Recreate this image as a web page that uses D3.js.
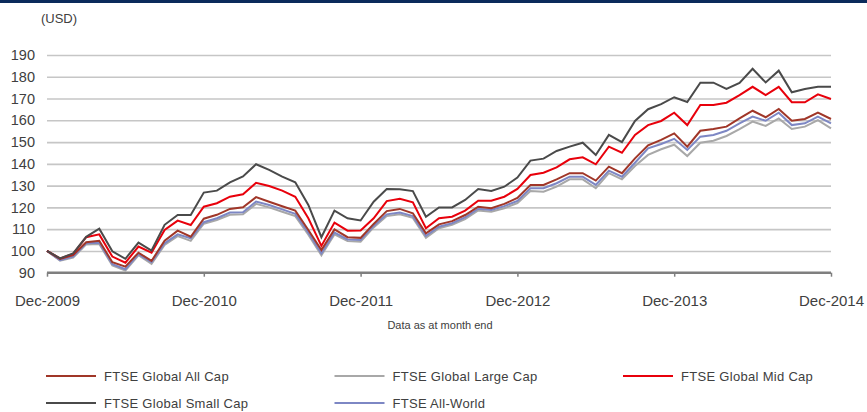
<!DOCTYPE html>
<html>
<head>
<meta charset="utf-8">
<script src="https://cdn.jsdelivr.net/npm/d3@7"></script>
<style>
  html, body { margin: 0; padding: 0; background: #fff; }
  svg { display: block; font-family: "Liberation Sans", Arial, sans-serif; }
</style>
</head>
<body>
<svg id="chart" width="867" height="412"></svg>
<script>
// ---- Data (monthly index values, Dec-2009 = 100, USD) ----
const months = d3.range(61); // Dec-2009 .. Dec-2014 (month index)
const xTickIndex = [0, 12, 24, 36, 48, 60];
const xTickLabels = ["Dec-2009", "Dec-2010", "Dec-2011", "Dec-2012", "Dec-2013", "Dec-2014"];
const yTicks = [90, 100, 110, 120, 130, 140, 150, 160, 170, 180, 190];

const seriesNames = ["FTSE Global All Cap", "FTSE Global Large Cap", "FTSE Global Mid Cap", "FTSE Global Small Cap", "FTSE All-World"];

const allCap = [100, 96.3, 98.1, 104, 104.7, 94.8, 92.8, 99.2, 95.4, 104.7, 109.3, 106.5, 114.8,
  116.6, 119.3, 120.1, 124.7, 122.6, 120.5, 118.5, 109.6, 100.4, 109.9, 106.3, 106,
  112.4, 118.3, 119.3, 117.3, 108.1, 112.2, 113.7, 116.5, 120.3, 119.6, 121.6, 124.3,
  130.3, 130.3, 132.9, 135.7, 135.7, 132.3, 138.7, 135.7, 142.5, 148.5, 151, 154,
  147.9, 155.2, 156, 157.1, 160.9, 164.4, 161.4, 165.2, 159.8, 160.6, 163.5, 160.6];

const largeCap = [100, 95.5, 96.9, 103, 103.2, 93.3, 91, 98, 94, 102.8, 106.8, 104.6, 112.5,
  114.2, 116.6, 116.8, 121.6, 120, 118, 116, 107.5, 98, 107.6, 104.5, 104.2,
  110.8, 116, 116.8, 115.2, 106, 110.4, 112, 114.6, 118.6, 118, 119.6, 122,
  127.5, 127.2, 129.5, 132.9, 132.9, 128.8, 135.7, 132.9, 139, 144.1, 146.7, 148.8,
  143.6, 149.7, 150.6, 152.8, 155.9, 159.4, 157.4, 160.9, 156, 157.1, 160.1, 156.3];

const midCap = [100, 96.6, 98.6, 106.3, 107.6, 97.4, 94.6, 102, 99.2, 109.6, 113.9, 111.9, 120.3,
  121.9, 124.9, 126, 131.3, 129.8, 127.7, 124.9, 115, 102.3, 113, 109.3, 109.4,
  115, 122.9, 124, 122.3, 110.4, 115, 115.7, 118.5, 123.1, 123.1, 124.9, 128.5,
  134.9, 135.9, 138.4, 142.1, 143, 139.8, 147.9, 145.1, 153.3, 157.8, 159.7, 163.5,
  157.8, 167, 167, 168.1, 171.6, 175.4, 171.6, 175.4, 168.3, 168.3, 171.9, 169.8];

const smallCap = [100, 96.6, 98.9, 106.5, 110.2, 99.8, 96.4, 103.8, 100.2, 112, 116.5, 116.5, 126.8,
  127.7, 131.5, 134.2, 139.8, 137.2, 134.1, 131.5, 121.1, 106.3, 118.5, 115, 114,
  122.6, 128.4, 128.3, 127.5, 115.7, 120, 120, 123.4, 128.4, 127.5, 129.5, 133.7,
  141.5, 142.4, 145.9, 147.9, 149.7, 144.1, 153.3, 150, 159.7, 165.1, 167.4, 170.6,
  168.4, 177.3, 177.3, 174.4, 177.2, 183.7, 177.4, 182.8, 172.9, 174.4, 175.4, 175.4];

const allWorld = [100, 95.8, 97.4, 103.5, 103.8, 93.9, 91.6, 98.5, 94.8, 103.5, 107.6, 105.8, 113.2,
  115, 117.6, 117.8, 122.7, 121.1, 119.1, 117, 108.4, 98.9, 108.4, 105.3, 105,
  111.5, 116.8, 117.6, 116, 106.9, 111.1, 112.7, 115.4, 119.4, 118.8, 120.6, 123,
  128.8, 128.8, 131.1, 134.1, 134.1, 130.3, 136.9, 134.1, 140.5, 147.1, 149.1, 151.5,
  146.4, 152.5, 153.3, 155.2, 158.6, 161.7, 159.8, 163.5, 157.8, 158.6, 161.7, 158.6];

const seriesValues = [allCap, largeCap, midCap, smallCap, allWorld];
const seriesColors = ["#a03628", "#a8a8a8", "#e8000b", "#4a4a4a", "#7d87c4"];

// ---- Layout ----
const svg = d3.select("#chart");
const W = 867, H = 412;
const plot = { left: 47, right: 831, top: 55, bottom: 272.7 };

svg.append("rect").attr("x", 0).attr("y", 0).attr("width", W).attr("height", 3).attr("fill", "#0b2a5b");

const x = d3.scaleLinear().domain([0, 60]).range([plot.left, plot.right]);
const y = d3.scaleLinear().domain([90, 190]).range([plot.bottom, plot.top]);

// Y axis with gridlines
const yAxis = d3.axisLeft(y)
  .tickValues(yTicks)
  .tickSize(-(plot.right - plot.left))
  .tickPadding(12)
  .tickFormat(d3.format("d"));
const gy = svg.append("g").attr("transform", `translate(${plot.left},0)`).call(yAxis);
gy.select(".domain").remove();
gy.selectAll(".tick line")
  .attr("stroke", "#c6c6c6")
  .attr("stroke-width", 1.6)
  .filter(d => d === 90).remove();
gy.selectAll(".tick text")
  .attr("fill", "#404040")
  .style("font-size", "14.5px")
  .style("font-family", "'Liberation Sans', Arial, sans-serif");

// X axis
const xAxis = d3.axisBottom(x)
  .tickValues(xTickIndex)
  .tickSize(4)
  .tickPadding(19)
  .tickFormat((d, i) => xTickLabels[i]);
const gx = svg.append("g").attr("transform", `translate(0,${plot.bottom})`).call(xAxis);
gx.select(".domain")
  .attr("stroke", "#7f7f7f")
  .attr("stroke-width", 2.6)
  .attr("d", `M${plot.left},0H${plot.right}`);
gx.selectAll(".tick line").attr("stroke", "#7f7f7f").attr("stroke-width", 1.5);
gx.selectAll(".tick text")
  .attr("fill", "#404040")
  .style("font-size", "15px")
  .style("font-family", "'Liberation Sans', Arial, sans-serif");

// (USD) label
svg.append("text")
  .attr("x", 59).attr("y", 23)
  .attr("text-anchor", "middle")
  .attr("fill", "#404040")
  .style("font-size", "13px")
  .text("(USD)");

// Lines
const line = d3.line().x((d, i) => x(months[i])).y(d => y(d));
const drawOrder = [1, 4, 0, 2, 3];
drawOrder.forEach(k => {
  svg.append("path")
    .datum(seriesValues[k])
    .attr("fill", "none")
    .attr("stroke", seriesColors[k])
    .attr("stroke-width", 2)
    .attr("stroke-linejoin", "miter")
    .attr("d", line);
});

// Note
svg.append("text")
  .attr("x", 440).attr("y", 329)
  .attr("text-anchor", "middle")
  .attr("fill", "#404040")
  .style("font-size", "11px")
  .text("Data as at month end");

// Legend
const legend = svg.append("g");
seriesNames.forEach((name, i) => {
  const col = i % 3, row = Math.floor(i / 3);
  const lx = 46 + col * 288.5;
  const ly = 376 + row * 27;
  legend.append("line")
    .attr("x1", lx).attr("x2", lx + 50)
    .attr("y1", ly).attr("y2", ly)
    .attr("stroke", seriesColors[i]).attr("stroke-width", 2.2);
  legend.append("text")
    .attr("x", lx + 58).attr("y", ly)
    .attr("dy", "0.35em")
    .attr("fill", "#404040")
    .style("font-size", "13px")
    .style("letter-spacing", "0.3px")
    .text(name);
});
</script>
</body>
</html>
